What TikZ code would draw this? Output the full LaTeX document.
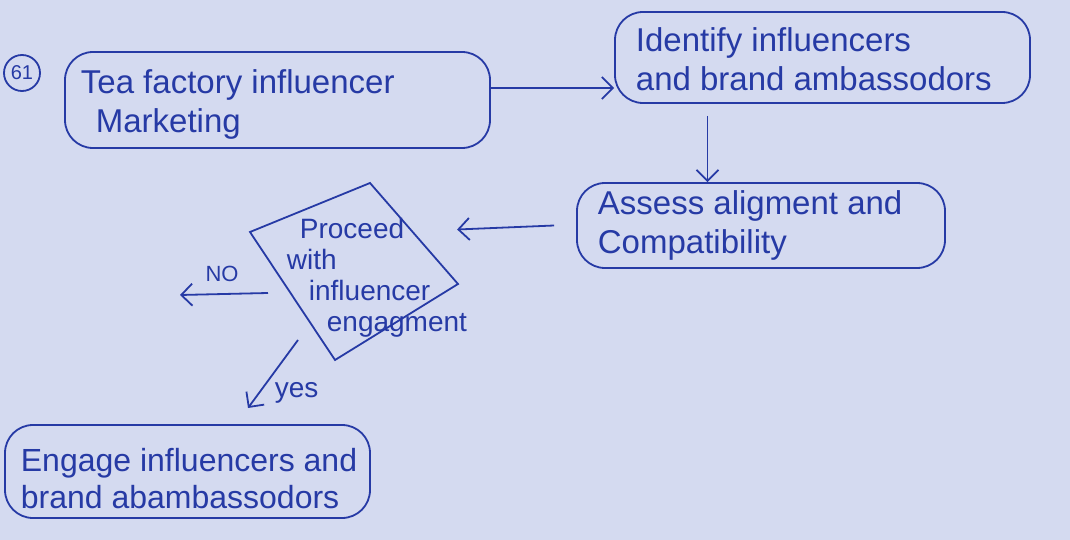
\documentclass[tikz,border=0pt]{standalone}
\usepackage{fontspec}
\setmainfont{Liberation Sans}
\usetikzlibrary{arrows.meta,calc}
\definecolor{paper}{RGB}{212,218,240}
\definecolor{ink}{RGB}{38,58,165}
\begin{document}
\begin{tikzpicture}[x=1pt,y=-1pt, line width=1.8pt, draw=ink, text=ink,
  box/.style={draw=ink, rounded corners=28pt, anchor=center, inner sep=0pt},
  btext/.style={align=left, anchor=base west, inner sep=0pt, font=\fontsize{33}{39}\selectfont},
  dtext/.style={align=left, inner sep=0pt, font=\fontsize{28}{31}\selectfont},
  small/.style={inner sep=0pt, font=\fontsize{28}{30}\selectfont},
  arr/.style={draw=ink, line width=1.8pt, -{Straight Barb[length=11pt,width=22pt]}}
]
\fill[paper] (0,0) rectangle (1070,540);
\useasboundingbox (0,0) rectangle (1070,540);

% number
\node[draw=ink, circle, minimum size=36pt, inner sep=0pt, font=\fontsize{20}{22}\selectfont] (num) at (22,73) {61};

% boxes (text nodes anchored at the baseline of their last line)
\node[box, minimum width=425pt, minimum height=96pt] (b1) at (277.5,100) {};
\node[btext] (b1t) at (80,133) {Tea factory influencer\\\hspace*{15pt}Marketing};
\node[box, minimum width=415pt, minimum height=91pt] (b2) at (822.5,57.5) {};
\node[btext] (b2t) at (635,91) {Identify influencers\\and brand ambassodors};
\node[box, minimum width=368pt, minimum height=85pt] (b3) at (761,225.5) {};
\node[btext] (b3t) at (597,253) {Assess aligment and\\Compatibility};
\node[box, minimum width=365pt, minimum height=93pt] (b4) at (187.5,471.5) {};
\node[btext, font=\fontsize{32}{37}\selectfont] (b4t) at (20,508) {Engage influencers and\\brand abambassodors};

% decision
\coordinate (dT) at (370,183);
\coordinate (dR) at (458,284);
\coordinate (dB) at (335,360);
\coordinate (dL) at (250,232);
\draw[ink] (dT) -- (dR) -- (dB) -- (dL) -- cycle;
\node[dtext, anchor=north west] (dec) at (286,217)
  {\hspace*{13pt}Proceed\\with\\\hspace*{22pt}influencer\\\hspace*{40pt}engagment};

% connectors
\draw[arr] ([yshift=12pt]b1.east) -- ([yshift=12pt]b1.east -| b2.west);
\coordinate (c2) at ([xshift=-115pt,yshift=-12pt]b2.south);
\draw[arr] (c2) -- (c2 |- b3.north);
\draw[arr] ([xshift=-22pt]b3.west) -- ([xshift=-119pt,yshift=-4pt]b3.west);
\coordinate (noStart) at (268,293);
\coordinate (noEnd) at (180,295);
\draw[arr] (noStart) -- (noEnd);
\node[small, font=\fontsize{22}{24}\selectfont] (nolbl) at (222,274) {NO};
\coordinate (yesStart) at (298,340);
\coordinate (yesEnd) at (248,408);
\draw[arr] (yesStart) -- (yesEnd);
\node[small, anchor=west] (yeslbl) at (274,393) {yes};
\end{tikzpicture}
\end{document}
